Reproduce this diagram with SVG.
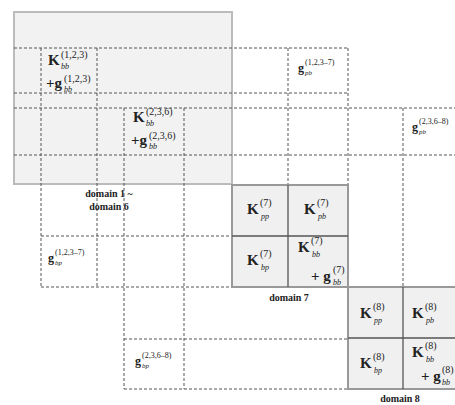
<svg xmlns="http://www.w3.org/2000/svg" width="455" height="405" viewBox="0 0 455 405">
<style>
text{font-family:"Liberation Serif","DejaVu Serif",serif;fill:#222}
.B{font-weight:bold;font-size:15px}
.g{font-weight:bold;font-size:12px}
.sup{font-size:10px}
.sub{font-size:8px;font-style:italic}
.ssup{font-size:8px}
.ssub{font-size:7px;font-style:italic}
.lbl{font-weight:bold;font-size:10px;text-anchor:middle}
.d{stroke:#555;stroke-width:1;stroke-dasharray:3 2;fill:none}
.box{fill:#f0f0f0;stroke:#999;stroke-width:2}
.in{stroke:#555;stroke-width:1.3;fill:none}
</style>
<rect x="0" y="0" width="455" height="405" fill="#fff"/>
<g id="domain1-6">
<rect x="14" y="12" width="218" height="172" fill="#f2f2f2" stroke="#bbb" stroke-width="2"/>
</g>
<g id="grid">
<line class="d" x1="14" y1="48" x2="348" y2="48"/>
<line class="d" x1="14" y1="93" x2="348" y2="93"/>
<line class="d" x1="14" y1="108" x2="455" y2="108"/>
<line class="d" x1="14" y1="155" x2="455" y2="155"/>
<line class="d" x1="41" y1="236" x2="232" y2="236"/>
<line class="d" x1="41" y1="287" x2="348" y2="287"/>
<line class="d" x1="124" y1="339" x2="348" y2="339"/>
<line class="d" x1="124" y1="389" x2="348" y2="389"/>
<line class="d" x1="41" y1="48" x2="41" y2="287"/>
<line class="d" x1="97" y1="48" x2="97" y2="287"/>
<line class="d" x1="124" y1="108" x2="124" y2="389"/>
<line class="d" x1="184" y1="108" x2="184" y2="389"/>
<line class="d" x1="288" y1="48" x2="288" y2="185"/>
<line class="d" x1="348" y1="48" x2="348" y2="185"/>
<line class="d" x1="403" y1="108" x2="403" y2="287"/>
</g>
<g id="domain7">
<rect class="box" x="232" y="185" width="116" height="102"/>
<line class="in" x1="288" y1="185" x2="288" y2="287"/>
<line class="in" x1="232" y1="236" x2="348" y2="236"/>
</g>
<g id="domain8">
<rect class="box" x="348" y="287" width="112" height="102"/>
<line class="in" x1="403" y1="287" x2="403" y2="389"/>
<line class="in" x1="348" y1="338" x2="455" y2="338"/>
</g>
<g id="labels">
<text x="48" y="65"><tspan class="B">K</tspan><tspan class="sup" x="61" y="58">(1,2,3)</tspan><tspan class="sub" x="61" y="69">bb</tspan></text>
<text x="46" y="88"><tspan class="B">+g</tspan><tspan class="sup" x="64" y="82">(1,2,3)</tspan><tspan class="sub" x="64" y="92">bb</tspan></text>
<text x="133" y="122"><tspan class="B">K</tspan><tspan class="sup" x="146" y="115">(2,3,6)</tspan><tspan class="sub" x="146" y="126">bb</tspan></text>
<text x="131" y="145"><tspan class="B">+g</tspan><tspan class="sup" x="149" y="139">(2,3,6)</tspan><tspan class="sub" x="149" y="149">bb</tspan></text>
<text x="298" y="72"><tspan class="g">g</tspan><tspan class="ssup" x="305" y="65">(1,2,3–7)</tspan><tspan class="ssub" x="305" y="75">pb</tspan></text>
<text x="412" y="131"><tspan class="g">g</tspan><tspan class="ssup" x="419" y="124">(2,3,6–8)</tspan><tspan class="ssub" x="419" y="134">pb</tspan></text>
<text x="48" y="262"><tspan class="g">g</tspan><tspan class="ssup" x="55" y="255">(1,2,3–7)</tspan><tspan class="ssub" x="55" y="265">bp</tspan></text>
<text x="135" y="365"><tspan class="g">g</tspan><tspan class="ssup" x="142" y="358">(2,3,6–8)</tspan><tspan class="ssub" x="142" y="368">bp</tspan></text>
<text class="lbl" x="109" y="197">domain 1 ~</text>
<text class="lbl" x="109" y="210">domain 6</text>
<text x="247" y="214"><tspan class="B">K</tspan><tspan class="sup" x="260" y="206">(7)</tspan><tspan class="sub" x="261" y="219">pp</tspan></text>
<text x="304" y="214"><tspan class="B">K</tspan><tspan class="sup" x="317" y="206">(7)</tspan><tspan class="sub" x="318" y="219">pb</tspan></text>
<text x="247" y="265"><tspan class="B">K</tspan><tspan class="sup" x="260" y="257">(7)</tspan><tspan class="sub" x="261" y="270">bp</tspan></text>
<text x="298" y="252"><tspan class="B">K</tspan><tspan class="sup" x="311" y="244">(7)</tspan><tspan class="sub" x="312" y="257">bb</tspan></text>
<text x="311" y="281"><tspan class="B">+ g</tspan><tspan class="sup" x="333" y="273">(7)</tspan><tspan class="sub" x="333" y="285">bb</tspan></text>
<text class="lbl" x="289" y="301">domain 7</text>
<text x="360" y="318"><tspan class="B">K</tspan><tspan class="sup" x="373" y="310">(8)</tspan><tspan class="sub" x="374" y="323">pp</tspan></text>
<text x="412" y="318"><tspan class="B">K</tspan><tspan class="sup" x="425" y="310">(8)</tspan><tspan class="sub" x="426" y="323">pb</tspan></text>
<text x="360" y="368"><tspan class="B">K</tspan><tspan class="sup" x="373" y="360">(8)</tspan><tspan class="sub" x="374" y="373">bp</tspan></text>
<text x="412" y="357"><tspan class="B">K</tspan><tspan class="sup" x="425" y="349">(8)</tspan><tspan class="sub" x="426" y="362">bb</tspan></text>
<text x="421" y="381"><tspan class="B">+ g</tspan><tspan class="sup" x="442" y="373">(8)</tspan><tspan class="sub" x="442" y="385">bb</tspan></text>
<text class="lbl" x="400" y="402">domain 8</text>
</g>
</svg>
